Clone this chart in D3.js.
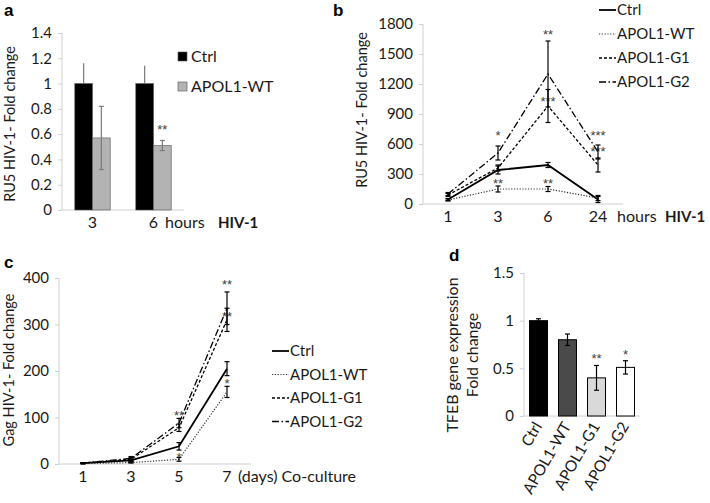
<!DOCTYPE html>
<html><head><meta charset="utf-8">
<script src="https://cdn.jsdelivr.net/npm/d3@7"></script>
<style>
body{margin:0;background:#fff;}
svg{display:block;font-family:Lato,"Open Sans",sans-serif;}
</style></head><body>
<svg id="c" width="710" height="503"></svg>
<script>
// ---------- DATA ----------
// Panel a
const aCats = ["3", "6"];
const aSeries = ["Ctrl", "APOL1-WT"];
const aValues = [[1.0, 1.0], [0.57, 0.51]];
const aErrUp = [[0.16, 0.14], [0.25, 0.04]];
const aErrDown = [[0, 0], [0.25, 0.04]];
const aStars = [["", ""], ["", "**"]];
const aTicks = [0, 0.2, 0.4, 0.6, 0.8, 1, 1.2, 1.4];

// Panel b
const bCats = ["1", "3", "6", "24"];
const bSeries = ["Ctrl", "APOL1-WT", "APOL1-G1", "APOL1-G2"];
const bValues = [[45, 340, 390, 45], [40, 150, 150, 60], [90, 360, 980, 390], [100, 510, 1300, 520]];
const bErrors = [[10, 40, 25, 30], [10, 30, 25, 25], [15, 30, 165, 70], [15, 70, 330, 70]];
const bStars = [["", "", "", ""], ["", "**", "**", ""], ["", "", "***", "***"], ["", "*", "**", "***"]];
const bStarAt = [[0, 0, 0, 0], [0, 220, 220, 0], [0, 0, 1045, 540], [0, 700, 1710, 700]];
const bTicks = [0, 300, 600, 900, 1200, 1500, 1800];

// Panel c
const cCats = ["1", "3", "5", "7"];
const cSeries = ["Ctrl", "APOL1-WT", "APOL1-G1", "APOL1-G2"];
const cValues = [[2, 8, 38, 205], [1, 3, 10, 155], [2, 10, 78, 310], [2, 12, 88, 335]];
const cErrors = [[1, 3, 8, 15], [1, 1, 4, 12], [1, 4, 8, 25], [1, 4, 10, 35]];
const cStars = [["", "", "", ""], ["", "", "*", "*"], ["", "", "", "**"], ["", "", "**", "**"]];
const cStarAt = [[0, 0, 0, 0], [0, 0, 17, 177], [0, 0, 0, 320], [0, 0, 107, 390]];
const cTicks = [0, 100, 200, 300, 400];

// Panel d
const dCats = ["Ctrl", "APOL1-WT", "APOL1-G1", "APOL1-G2"];
const dValues = [1.0, 0.8, 0.4, 0.51];
const dErrors = [0.02, 0.06, 0.13, 0.07];
const dStars = ["", "", "**", "*"];
const dTicks = [0, 0.5, 1, 1.5];

// ---------- STYLE ----------
const AXIS = "#d0d0d0";
const TXT = "#1a1a1a";
const dashes = [null, "1.2,1.6", "3,2", "7,2.5,1.5,2.5"];
const widths = [1.8, 1.2, 1.3, 1.3];
const aColors = ["#000000", "#b3b3b3"];
const dColors = ["#000000", "#4a4a4a", "#d9d9d9", "#ffffff"];

const svg = d3.select("#c");

function yAxis(g, y, ticks, fmt) {
  const ax = d3.axisLeft(y).tickValues(ticks).tickSize(4).tickPadding(6).tickFormat(fmt);
  g.call(ax);
  g.select(".domain").attr("stroke", AXIS).attr("d", null);
  g.selectAll(".tick line").attr("stroke", AXIS);
  g.selectAll(".tick text").attr("fill", TXT).attr("font-size", 15).attr("font-family", "Lato");
}
function axisLines(g, x0, x1, yTop, yBot) {
  g.append("line").attr("x1", x0).attr("x2", x0).attr("y1", yTop).attr("y2", yBot).attr("stroke", AXIS);
  g.append("line").attr("x1", x0).attr("x2", x1).attr("y1", yBot).attr("y2", yBot).attr("stroke", AXIS);
}
function rotLabel(g, text, cx, cy, size) {
  g.append("text").attr("transform", `translate(${cx},${cy}) rotate(-90)`)
    .attr("text-anchor", "middle").attr("font-size", size).attr("fill", TXT).text(text);
}
function errBar(g, x, yTop, yBot, color, cap) {
  g.append("line").attr("x1", x).attr("x2", x).attr("y1", yTop).attr("y2", yBot).attr("stroke", color).attr("stroke-width", 1.2);
  if (cap > 0) {
    g.append("line").attr("x1", x - cap).attr("x2", x + cap).attr("y1", yTop).attr("y2", yTop).attr("stroke", color).attr("stroke-width", 1.2);
    g.append("line").attr("x1", x - cap).attr("x2", x + cap).attr("y1", yBot).attr("y2", yBot).attr("stroke", color).attr("stroke-width", 1.2);
  }
}
function star(g, x, y, s) {
  g.append("text").attr("x", x).attr("y", y).attr("text-anchor", "middle").attr("font-size", 13)
    .attr("fill", "#404040").attr("font-family", "Liberation Sans").text(s);
}

// ---------- PANEL A ----------
{
  const g = svg.append("g");
  const x = d3.scaleBand().domain(aCats).range([62, 184]).paddingInner(0.42).paddingOuter(0.21);
  const xs = d3.scaleBand().domain(aSeries).range([0, x.bandwidth()]);
  const y = d3.scaleLinear().domain([0, 1.4]).range([210, 33]);
  axisLines(g, 62, 184, 33, 210);
  yAxis(g.append("g").attr("transform", "translate(62,0)"), y, aTicks, d3.format("~g"));
  aSeries.forEach((s, si) => {
    aCats.forEach((c, ci) => {
      const bx = x(c) + xs(s);
      g.append("rect").attr("x", bx).attr("y", y(aValues[si][ci])).attr("width", xs.bandwidth())
        .attr("height", y(0) - y(aValues[si][ci])).attr("fill", aColors[si]).attr("stroke", "#555").attr("stroke-width", 0.6);
      const cx = bx + xs.bandwidth() / 2;
      errBar(g, cx, y(aValues[si][ci] + aErrUp[si][ci]), y(aValues[si][ci] - aErrDown[si][ci]), "#7a7a7a", si === 1 ? 2.5 : 0);
      if (aStars[si][ci]) star(g, cx, y(aValues[si][ci] + aErrUp[si][ci]) - 6, aStars[si][ci]);
    });
  });
  aCats.forEach(c => {
    g.append("text").attr("x", x(c) + x.bandwidth() / 2).attr("y", 228).attr("text-anchor", "middle")
      .attr("font-size", 16).attr("fill", TXT).text(c);
  });
  g.append("text").attr("x", 165).attr("y", 228).attr("font-size", 16).attr("fill", TXT).text("hours");
  g.append("text").attr("x", 218).attr("y", 228).attr("font-size", 15).attr("font-weight", "bold").attr("fill", TXT).text("HIV-1");
  rotLabel(g, "RU5 HIV-1- Fold change", 15, 124, 14.5);
  g.append("text").attr("x", 4).attr("y", 16).attr("font-size", 17).attr("font-weight", "bold").attr("font-family", "Liberation Sans").text("a");
  // legend
  aSeries.forEach((s, i) => {
    const ly = 57 + i * 30;
    g.append("rect").attr("x", 178).attr("y", ly - 5).attr("width", 9).attr("height", 9)
      .attr("fill", aColors[i]).attr("stroke", "#555").attr("stroke-width", 0.6);
    g.append("text").attr("x", 191).attr("y", ly + 5).attr("font-size", 16).attr("fill", TXT).text(s);
  });
}

// ---------- LINE PANEL helper ----------
function linePanel(cfg) {
  const g = svg.append("g");
  const x = d3.scaleBand().domain(cfg.cats).range([cfg.x0, cfg.x1]);
  const y = d3.scaleLinear().domain([0, cfg.ymax]).range([cfg.yb, cfg.yt]);
  axisLines(g, cfg.x0, cfg.x1, cfg.yt, cfg.yb);
  yAxis(g.append("g").attr("transform", `translate(${cfg.x0},0)`), y, cfg.ticks, d3.format("d"));
  const px = c => x(c) + x.bandwidth() / 2;
  const line = d3.line().x((d, i) => px(cfg.cats[i])).y(d => y(d));
  cfg.series.forEach((s, si) => {
    g.append("path").attr("d", line(cfg.values[si])).attr("fill", "none").attr("stroke", si === 1 ? "#333" : "#000")
      .attr("stroke-width", widths[si]).attr("stroke-dasharray", dashes[si]);
  });
  cfg.series.forEach((s, si) => {
    cfg.cats.forEach((c, ci) => {
      const v = cfg.values[si][ci], e = cfg.errors[si][ci];
      errBar(g, px(c), y(v + e), y(v - e), "#000", 2.5);
      if (cfg.stars[si][ci]) star(g, px(c), y(cfg.starAt[si][ci]) + 6, cfg.stars[si][ci]);
    });
  });
  cfg.cats.forEach(c => {
    g.append("text").attr("x", px(c)).attr("y", cfg.labY).attr("text-anchor", "middle")
      .attr("font-size", 16).attr("fill", TXT).text(c);
  });
  // legend
  cfg.series.forEach((s, si) => {
    const ly = cfg.legY + si * cfg.legStep;
    g.append("line").attr("x1", cfg.legX).attr("x2", cfg.legX + 17).attr("y1", ly).attr("y2", ly)
      .attr("stroke", si === 1 ? "#333" : "#000").attr("stroke-width", widths[si]).attr("stroke-dasharray", dashes[si]);
    g.append("text").attr("x", cfg.legX + 18).attr("y", ly + 5).attr("font-size", 15).attr("fill", TXT).text(s);
  });
  return { g, x, y, px };
}

// ---------- PANEL B ----------
{
  const p = linePanel({
    cats: bCats, series: bSeries, values: bValues, errors: bErrors, stars: bStars, starAt: bStarAt,
    ticks: bTicks, ymax: 1800, x0: 423, x1: 623, yt: 24, yb: 204, labY: 222,
    legX: 599, legY: 10, legStep: 24
  });
  p.g.append("text").attr("x", 617).attr("y", 222).attr("font-size", 16).attr("fill", TXT).text("hours");
  p.g.append("text").attr("x", 665).attr("y", 222).attr("font-size", 15).attr("font-weight", "bold").attr("fill", TXT).text("HIV-1");
  rotLabel(p.g, "RU5 HIV-1- Fold change", 367, 110, 14.5);
  p.g.append("text").attr("x", 333).attr("y", 16).attr("font-size", 17).attr("font-weight", "bold").attr("font-family", "Liberation Sans").text("b");
}

// ---------- PANEL C ----------
{
  const p = linePanel({
    cats: cCats, series: cSeries, values: cValues, errors: cErrors, stars: cStars, starAt: cStarAt,
    ticks: cTicks, ymax: 400, x0: 59, x1: 251, yt: 278, yb: 464, labY: 482,
    legX: 272, legY: 351, legStep: 23.5
  });
  p.g.append("text").attr("x", 238).attr("y", 482).attr("font-size", 16).attr("fill", TXT).text("(days) Co-culture");
  rotLabel(p.g, "Gag HIV-1- Fold change", 14, 370, 14.5);
  p.g.append("text").attr("x", 4).attr("y", 268).attr("font-size", 17).attr("font-weight", "bold").attr("font-family", "Liberation Sans").text("c");
}

// ---------- PANEL D ----------
{
  const g = svg.append("g");
  const x = d3.scaleBand().domain(dCats).range([524, 640]).paddingInner(0.38).paddingOuter(0.19);
  const y = d3.scaleLinear().domain([0, 1.5]).range([416, 273]);
  axisLines(g, 524, 640, 273, 416);
  yAxis(g.append("g").attr("transform", "translate(524,0)"), y, dTicks, d3.format("~g"));
  dCats.forEach((c, i) => {
    g.append("rect").attr("x", x(c)).attr("y", y(dValues[i])).attr("width", x.bandwidth())
      .attr("height", y(0) - y(dValues[i])).attr("fill", dColors[i]).attr("stroke", "#000").attr("stroke-width", 1);
    const cx = x(c) + x.bandwidth() / 2;
    errBar(g, cx, y(dValues[i] + dErrors[i]), y(dValues[i] - dErrors[i]), "#000", 2.5);
    if (dStars[i]) star(g, cx, y(dValues[i] + dErrors[i]) - 2, dStars[i]);
    g.append("text").attr("transform", `translate(${cx + 4},${426}) rotate(-60)`).attr("text-anchor", "end")
      .attr("font-size", 15.5).attr("fill", TXT).text(c);
  });
  rotLabel(g, "TFEB gene expression", 458, 355, 16);
  rotLabel(g, "Fold change", 478, 355, 16);
  g.append("text").attr("x", 449).attr("y", 261).attr("font-size", 17).attr("font-weight", "bold").attr("font-family", "Liberation Sans").text("d");
}
</script>
</body></html>
